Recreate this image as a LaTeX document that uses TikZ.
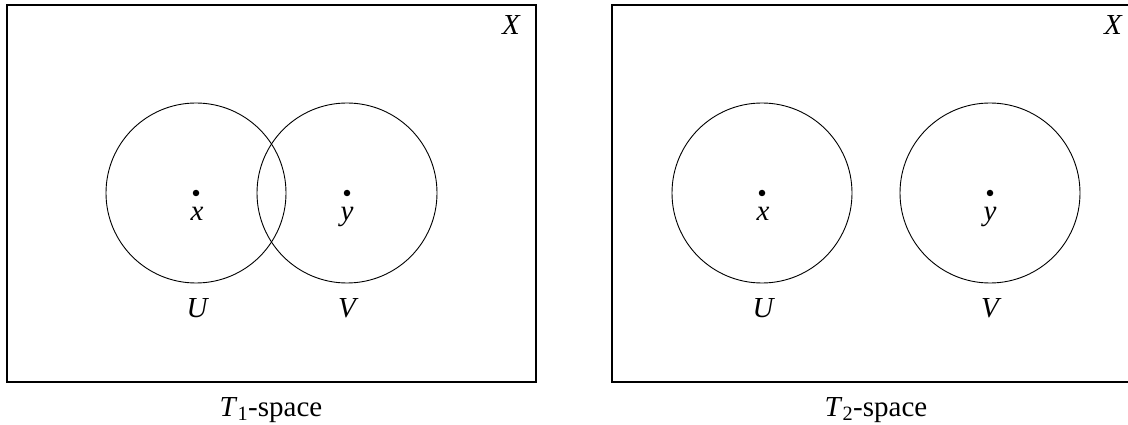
\documentclass[tikz,border=0pt]{standalone}
\usepackage{fontspec}
\setmainfont{Liberation Serif}
\begin{document}
\begin{tikzpicture}[x=1pt,y=-1pt,
  frame/.style={draw,line width=1.1pt},
  nbhd/.style={draw,line width=0.9pt},
  pt/.style={circle,fill,inner sep=0pt,minimum size=6.5pt},
  lbl/.style={font=\fontsize{29}{33}\selectfont\itshape,inner sep=0pt,anchor=base},
  captext/.style={font=\fontsize{29}{33}\selectfont,inner sep=0pt,anchor=base}]
\clip (0,0) rectangle (1128,425);
% left panel
\draw[frame] (7,5) rectangle (536,382);
\node[lbl] (X1) at (511,35) {X};
\draw[nbhd] (196,193) circle (90);
\draw[nbhd] (347,193) circle (90);
\node[pt] (p1) at (196,193) {};
\node[pt] (q1) at (347,193) {};
\node[lbl] (x1) at (197,221) {x};
\node[lbl] (y1) at (347,221) {y};
\node[lbl] (U1) at (197,317) {U};
\node[lbl] (V1) at (347,317) {V};
\node[captext] (c1) at (271,416) {\textit{T}\textsubscript{1}-space};
% right panel
\draw[frame] (612,5) rectangle (1141,382);
\node[lbl] (X2) at (1113,35) {X};
\draw[nbhd] (762,193) circle (90);
\draw[nbhd] (990,193) circle (90);
\node[pt] (p2) at (762,193) {};
\node[pt] (q2) at (990,193) {};
\node[lbl] (x2) at (763,221) {x};
\node[lbl] (y2) at (990,221) {y};
\node[lbl] (U2) at (763,317) {U};
\node[lbl] (V2) at (990,317) {V};
\node[captext] (c2) at (876,416) {\textit{T}\textsubscript{2}-space};
\end{tikzpicture}
\end{document}
